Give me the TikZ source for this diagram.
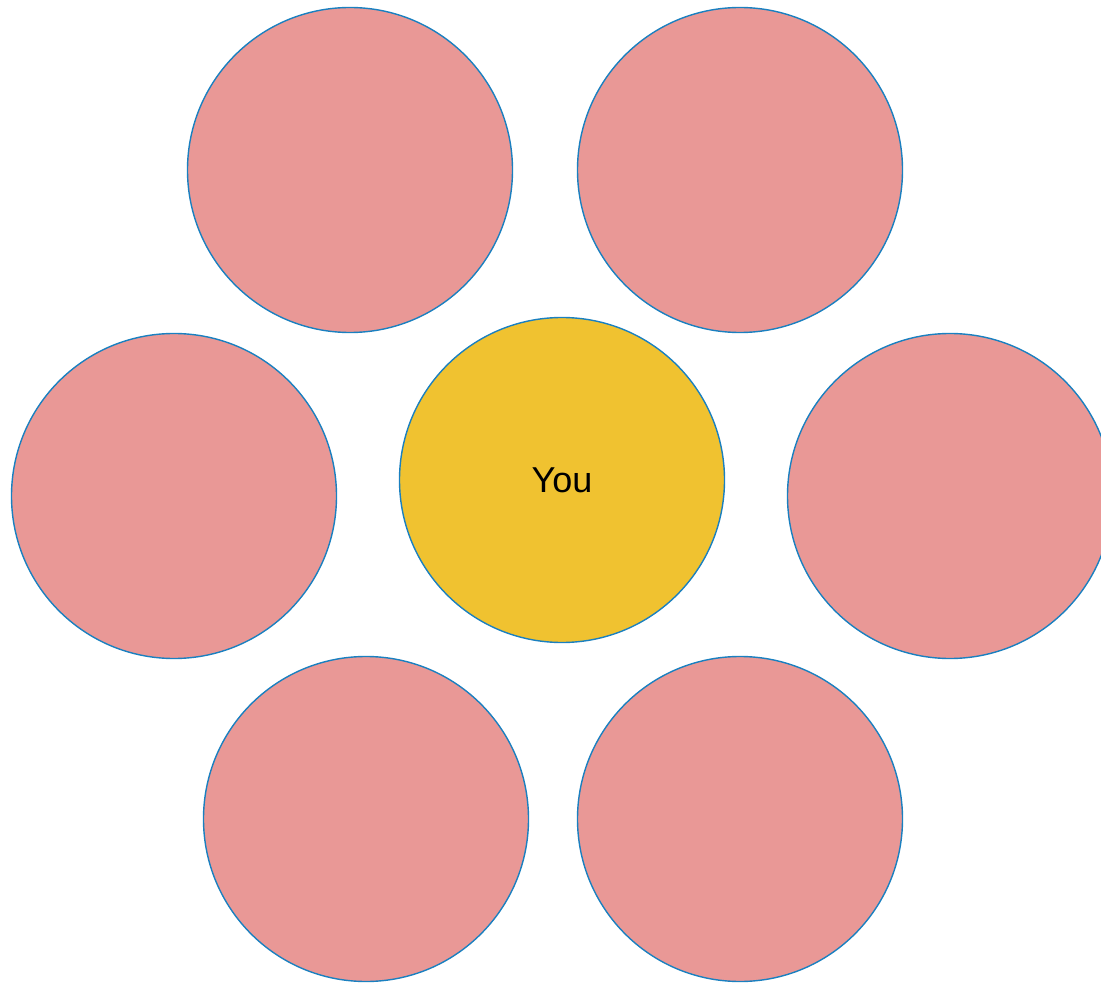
\documentclass[tikz,border=0pt]{standalone}
\usepackage{fontspec}
\setmainfont{Liberation Sans}
\definecolor{pinkfill}{HTML}{E99896}
\definecolor{yellowfill}{HTML}{F0C230}
\definecolor{ringblue}{HTML}{1A80C0}
\begin{document}
\begin{tikzpicture}[x=1pt,y=-1pt,
  ring/.style={circle,draw=ringblue,line width=1.4pt,minimum size=325pt,inner sep=0pt},
  other/.style={ring,fill=pinkfill},
  self/.style={ring,fill=yellowfill,font=\fontsize{36}{40}\selectfont}]
\useasboundingbox (0,0) rectangle (1101,984);
\clip (0,0) rectangle (1101,984);
\node[other] (tl) at (350,170) {};
\node[other] (tr) at (740,170) {};
\node[other] (ml) at (174,496) {};
\node[self] (you) at (562,480) {You};
\node[other] (mr) at (950,496) {};
\node[other] (bl) at (366,819) {};
\node[other] (br) at (740,819) {};
\end{tikzpicture}
\end{document}
